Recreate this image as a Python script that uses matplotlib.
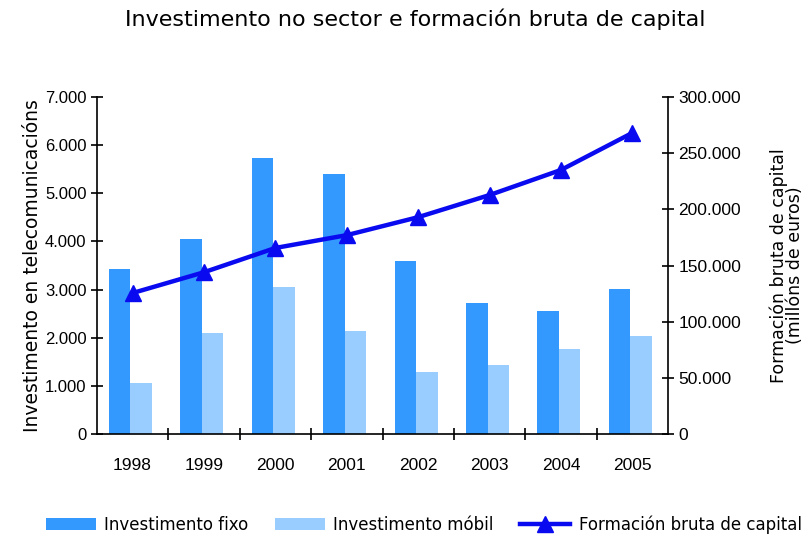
import matplotlib.pyplot as plt
import numpy as np

# datos
anos = ['1998', '1999', '2000', '2001', '2002', '2003', '2004', '2005']
inv_fixo = [3430, 4050, 5740, 5400, 3600, 2720, 2560, 3010]
inv_mobil = [1060, 2100, 3060, 2140, 1290, 1430, 1770, 2040]
fbc = [125500, 144000, 165600, 177000, 193000, 212700, 235000, 268000]

left_ticks = [0, 1000, 2000, 3000, 4000, 5000, 6000, 7000]
left_labels = ['0', '1.000', '2.000', '3.000', '4.000', '5.000', '6.000', '7.000']
right_ticks = [0, 50000, 100000, 150000, 200000, 250000, 300000]
right_labels = ['0', '50.000', '100.000', '150.000', '200.000', '250.000', '300.000']

fig = plt.figure(figsize=(8.07, 5.38), dpi=100)
ax = fig.add_axes([0.120, 0.193, 0.708, 0.627])
ax2 = ax.twinx()

x = np.arange(len(anos))
w = 0.3
b1 = ax.bar(x - w / 2 - 0.03, inv_fixo, w, color='#3399FF', label='Investimento fixo', zorder=2)
b2 = ax.bar(x + w / 2 - 0.03, inv_mobil, w, color='#99CCFF', label='Investimento móbil', zorder=2)
l1, = ax2.plot(x, fbc, color='#0a0af0', linewidth=3.2, marker='^', markersize=11,
               label='Formación bruta de capital')

ax.set_xlim(-0.5, len(anos) - 0.5)
ax.set_ylim(0, 7000)
ax2.set_ylim(0, 300000)

ax.set_yticks(left_ticks)
ax.set_yticklabels(left_labels, fontsize=12, family='Liberation Sans')
ax2.set_yticks(right_ticks)
ax2.set_yticklabels(right_labels, fontsize=12.5, family='Liberation Sans')

ax.set_xticks(x)
ax.set_xticklabels(anos, fontsize=12.5, family='Liberation Sans')
ax.tick_params(axis='x', length=0, pad=17)
ax.set_xticks(np.arange(0.5, len(anos) - 1, 1), minor=True)
ax.tick_params(axis='x', which='minor', direction='inout', length=8, width=1.2)
ax.tick_params(axis='y', direction='inout', length=8, width=1.2)
ax2.tick_params(axis='y', direction='inout', length=8, width=1.2)

for a in (ax, ax2):
    a.spines['top'].set_visible(False)
ax.spines['right'].set_visible(False)
ax2.spines['left'].set_visible(False)
ax2.spines['bottom'].set_visible(False)
for s in ('left', 'bottom'):
    ax.spines[s].set_linewidth(1.2)
ax2.spines['right'].set_linewidth(1.2)

ax.set_ylabel('Investimento en telecomunicacións', fontsize=13.5, labelpad=2)
ax2.set_ylabel('Formación bruta de capital\n(millóns de euros)', fontsize=12.5, labelpad=20,
               linespacing=0.9)

fig.suptitle('Investimento no sector e formación bruta de capital', fontsize=16, x=0.515, y=0.985)

fig.legend([b1, b2, l1], ['Investimento fixo', 'Investimento móbil', 'Formación bruta de capital'],
           loc='lower center', bbox_to_anchor=(0.525, -0.02), ncol=3, frameon=False,
           fontsize=12, handlelength=3.0, columnspacing=1.6, handletextpad=0.5)

plt.savefig('out.png', dpi=100)
